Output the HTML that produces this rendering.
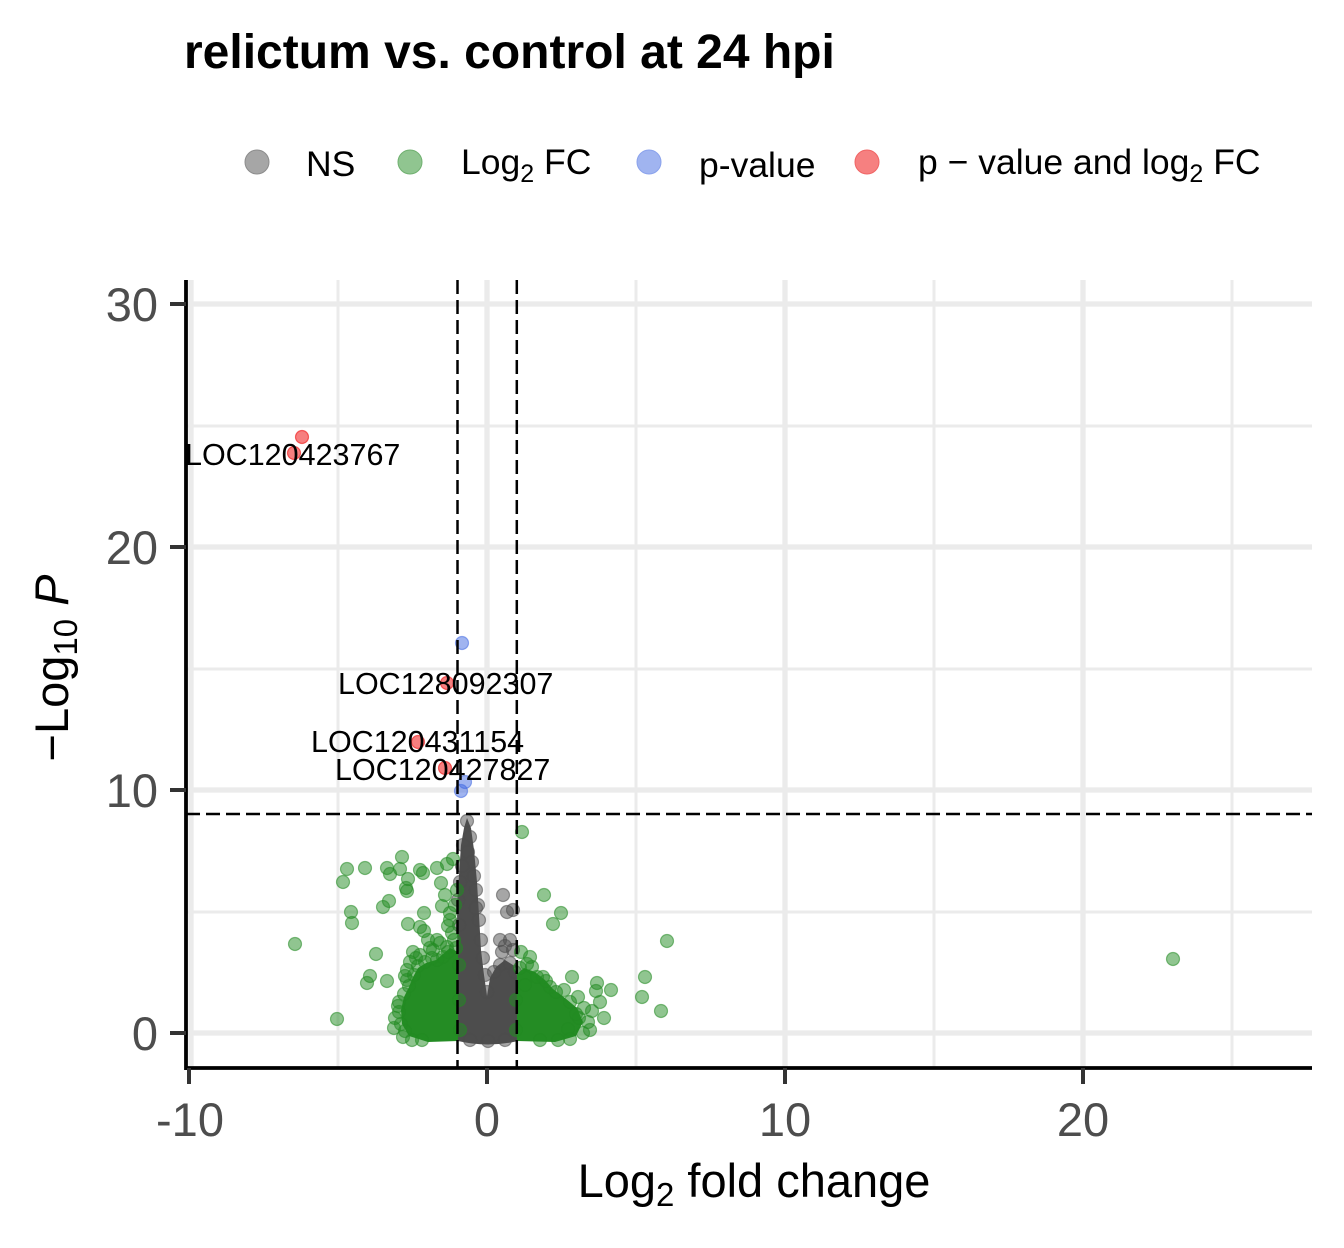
<!DOCTYPE html>
<html><head><meta charset="utf-8">
<style>
html,body{margin:0;padding:0;background:#fff;}
svg{display:block;font-family:"Liberation Sans",Arial,sans-serif;}
.g{fill:#228B22;fill-opacity:.5;stroke:#228B22;stroke-opacity:.55;stroke-width:1.2}
.k{fill:#4D4D4D;fill-opacity:.5;stroke:#4D4D4D;stroke-opacity:.55;stroke-width:1.2}
.b{fill:#4169E1;fill-opacity:.5;stroke:#4169E1;stroke-opacity:.55;stroke-width:1.2}
.r{fill:#EE0000;fill-opacity:.5;stroke:#EE0000;stroke-opacity:.55;stroke-width:1.2}
</style></head><body>
<svg width="1344" height="1248" viewBox="0 0 1344 1248" xmlns="http://www.w3.org/2000/svg">
<rect width="1344" height="1248" fill="#fff"/>

<!-- title -->
<text x="184" y="68" font-size="48" font-weight="bold" fill="#000">relictum vs. control at 24 hpi</text>

<!-- legend -->
<circle cx="257" cy="162" r="12" fill="#a6a6a6" stroke="#8c8c8c" stroke-width="1"/>
<text x="306" y="176" font-size="35.5" fill="#000">NS</text>
<circle cx="410" cy="162" r="12" fill="#90c590" stroke="#6fb06f" stroke-width="1"/>
<text x="461" y="174" font-size="35.5" fill="#000">Log<tspan font-size="25" dy="8">2</tspan><tspan dy="-8"> FC</tspan></text>
<circle cx="649" cy="162" r="12" fill="#a0b4f0" stroke="#8aa2ec" stroke-width="1"/>
<text x="699" y="177" font-size="35.5" fill="#000">p-value</text>
<circle cx="867" cy="162" r="12" fill="#f68080" stroke="#f06464" stroke-width="1"/>
<text x="918" y="174" font-size="35.5" fill="#000">p<tspan> − </tspan>value and log<tspan font-size="25" dy="8">2</tspan><tspan dy="-8"> FC</tspan></text>

<!-- grid -->
<g stroke="#EBEBEB" stroke-width="3">
<line x1="186" x2="1312" y1="912" y2="912"/>
<line x1="186" x2="1312" y1="669" y2="669"/>
<line x1="186" x2="1312" y1="426" y2="426"/>
<line y1="280" y2="1068" x1="338" x2="338"/>
<line y1="280" y2="1068" x1="636" x2="636"/>
<line y1="280" y2="1068" x1="934" x2="934"/>
<line y1="280" y2="1068" x1="1232" x2="1232"/>
</g>
<g stroke="#EBEBEB" stroke-width="5.3">
<line x1="186" x2="1312" y1="1033" y2="1033"/>
<line x1="186" x2="1312" y1="790" y2="790"/>
<line x1="186" x2="1312" y1="547" y2="547"/>
<line x1="186" x2="1312" y1="304" y2="304"/>
<line y1="280" y2="1068" x1="191" x2="191"/>
<line y1="280" y2="1068" x1="487" x2="487"/>
<line y1="280" y2="1068" x1="785" x2="785"/>
<line y1="280" y2="1068" x1="1083" x2="1083"/>
</g>

<!-- grey core -->
<path d="M458,1041 L457,905 L459,875 L461,845 L464,828 L467,818 L471,828 L474,850 L477,882 L479,915 L481,950 L484,975 L487,996 L490,978 L496,967 L505,960 L513,965 L517,975 L518,1041 Q488,1048 458,1041 Z" fill="#4D4D4D"/>
<g class="k">
<circle cx="467" cy="821" r="6.5"/><circle cx="470" cy="837" r="6.5"/><circle cx="463" cy="845" r="6.5"/>
<circle cx="468" cy="852" r="6.5"/><circle cx="472" cy="862" r="6.5"/><circle cx="462" cy="866" r="6.5"/>
<circle cx="474" cy="876" r="6.5"/><circle cx="460" cy="882" r="6.5"/><circle cx="476" cy="890" r="6.5"/>
<circle cx="478" cy="905" r="6.5"/><circle cx="479" cy="920" r="6.5"/><circle cx="481" cy="940" r="6.5"/>
<circle cx="483" cy="958" r="6.5"/><circle cx="485" cy="975" r="6.5"/><circle cx="487" cy="992" r="6.5"/>
<circle cx="503" cy="895" r="6.5"/><circle cx="507" cy="912" r="6.5"/><circle cx="513" cy="910" r="6.5"/>
<circle cx="500" cy="940" r="6.5"/><circle cx="505" cy="946" r="6.5"/><circle cx="510" cy="940" r="6.5"/>
<circle cx="513" cy="950" r="6.5"/><circle cx="502" cy="952" r="6.5"/><circle cx="500" cy="965" r="6.5"/>
<circle cx="494" cy="972" r="6.5"/><circle cx="510" cy="963" r="6.5"/><circle cx="515" cy="972" r="6.5"/>
<circle cx="470" cy="1040" r="6.5"/><circle cx="488" cy="1041" r="6.5"/><circle cx="505" cy="1040" r="6.5"/>
<circle cx="458" cy="900" r="6.5"/><circle cx="459" cy="925" r="6.5"/><circle cx="476" cy="908" r="6.5"/>
</g>

<!-- green cores -->
<path d="M458,1041 L458,952 L450,948 L443,954 L436,960 L426,963 L418,968 L413,977 L409,987 L404,997 L401,1010 L402,1024 L409,1036 L428,1042 Z" fill="#248C24"/>
<path d="M517,1041 L517,974 L524,968 L535,972 L545,980 L553,989 L565,998 L577,1008 L583,1022 L576,1036 L555,1042 Z" fill="#248C24"/>

<g class="g">
<!-- left outliers -->
<circle cx="295" cy="944" r="6.5"/><circle cx="337" cy="1019" r="6.5"/><circle cx="343" cy="882" r="6.5"/>
<circle cx="347" cy="869" r="6.5"/><circle cx="351" cy="912" r="6.5"/><circle cx="352" cy="923" r="6.5"/>
<circle cx="365" cy="868" r="6.5"/><circle cx="367" cy="983" r="6.5"/><circle cx="370" cy="976" r="6.5"/>
<circle cx="376" cy="954" r="6.5"/><circle cx="383" cy="907" r="6.5"/><circle cx="387" cy="868" r="6.5"/>
<circle cx="387" cy="981" r="6.5"/><circle cx="389" cy="901" r="6.5"/><circle cx="390" cy="874" r="6.5"/>
<circle cx="400" cy="869" r="6.5"/><circle cx="402" cy="857" r="6.5"/><circle cx="405" cy="976" r="6.5"/>
<circle cx="407" cy="980" r="6.5"/><circle cx="406" cy="888" r="6.5"/><circle cx="407" cy="891" r="6.5"/>
<circle cx="408" cy="879" r="6.5"/><circle cx="408" cy="924" r="6.5"/><circle cx="413" cy="952" r="6.5"/>
<circle cx="420" cy="870" r="6.5"/><circle cx="423" cy="873" r="6.5"/><circle cx="420" cy="927" r="6.5"/>
<circle cx="424" cy="913" r="6.5"/><circle cx="424" cy="931" r="6.5"/><circle cx="437" cy="868" r="6.5"/>
<circle cx="441" cy="883" r="6.5"/><circle cx="445" cy="895" r="6.5"/><circle cx="442" cy="906" r="6.5"/>
<circle cx="447" cy="864" r="6.5"/><circle cx="453" cy="859" r="6.5"/><circle cx="457" cy="890" r="6.5"/>
<circle cx="450" cy="913" r="6.5"/><circle cx="450" cy="920" r="6.5"/><circle cx="448" cy="926" r="6.5"/>
<circle cx="452" cy="933" r="6.5"/><circle cx="437" cy="940" r="6.5"/><circle cx="440" cy="943" r="6.5"/>
<circle cx="447" cy="947" r="6.5"/><circle cx="443" cy="957" r="6.5"/><circle cx="437" cy="960" r="6.5"/>
<circle cx="399" cy="1002" r="6.5"/><circle cx="399" cy="1012" r="6.5"/><circle cx="405" cy="1031" r="6.5"/>
<circle cx="454" cy="940" r="6.5"/><circle cx="455" cy="905" r="6.5"/><circle cx="430" cy="948" r="6.5"/>
<!-- left core edges -->
<circle cx="401" cy="1024" r="6.5"/><circle cx="403" cy="1037" r="6.5"/><circle cx="412" cy="1040" r="6.5"/>
<circle cx="404" cy="994" r="6.5"/><circle cx="409" cy="986" r="6.5"/><circle cx="414" cy="975" r="6.5"/>
<circle cx="418" cy="966" r="6.5"/><circle cx="425" cy="962" r="6.5"/><circle cx="432" cy="958" r="6.5"/>
<circle cx="448" cy="952" r="6.5"/><circle cx="456" cy="948" r="6.5"/><circle cx="395" cy="1018" r="6.5"/>
<circle cx="410" cy="962" r="6.5"/><circle cx="420" cy="955" r="6.5"/><circle cx="428" cy="940" r="6.5"/>
<circle cx="459" cy="965" r="6.5"/><circle cx="459" cy="1000" r="6.5"/><circle cx="460" cy="1030" r="6.5"/>
<circle cx="398" cy="1006" r="6.5"/><circle cx="407" cy="970" r="6.5"/><circle cx="416" cy="958" r="6.5"/>
<circle cx="433" cy="950" r="6.5"/><circle cx="422" cy="1040" r="6.5"/><circle cx="394" cy="1028" r="6.5"/>
<!-- right outliers -->
<circle cx="522" cy="832" r="6.5"/><circle cx="544" cy="895" r="6.5"/><circle cx="561" cy="913" r="6.5"/>
<circle cx="553" cy="924" r="6.5"/><circle cx="667" cy="941" r="6.5"/><circle cx="1173" cy="959" r="6.5"/>
<circle cx="521" cy="952" r="6.5"/><circle cx="530" cy="957" r="6.5"/><circle cx="532" cy="967" r="6.5"/>
<circle cx="572" cy="977" r="6.5"/><circle cx="645" cy="977" r="6.5"/><circle cx="597" cy="983" r="6.5"/>
<circle cx="596" cy="991" r="6.5"/><circle cx="611" cy="990" r="6.5"/><circle cx="642" cy="997" r="6.5"/>
<circle cx="661" cy="1011" r="6.5"/><circle cx="592" cy="1011" r="6.5"/><circle cx="578" cy="997" r="6.5"/>
<circle cx="579" cy="1018" r="6.5"/><circle cx="568" cy="1029" r="6.5"/><circle cx="564" cy="990" r="6.5"/>
<circle cx="550" cy="987" r="6.5"/><circle cx="543" cy="977" r="6.5"/><circle cx="537" cy="977" r="6.5"/>
<!-- right core edges -->
<circle cx="520" cy="968" r="6.5"/><circle cx="527" cy="964" r="6.5"/><circle cx="546" cy="981" r="6.5"/>
<circle cx="556" cy="992" r="6.5"/><circle cx="570" cy="1002" r="6.5"/><circle cx="584" cy="1008" r="6.5"/>
<circle cx="588" cy="1022" r="6.5"/><circle cx="583" cy="1033" r="6.5"/><circle cx="570" cy="1039" r="6.5"/>
<circle cx="600" cy="1002" r="6.5"/><circle cx="604" cy="1018" r="6.5"/><circle cx="576" cy="1014" r="6.5"/>
<circle cx="516" cy="1000" r="6.5"/><circle cx="516" cy="1030" r="6.5"/><circle cx="558" cy="1040" r="6.5"/>
<circle cx="525" cy="985" r="6.5"/><circle cx="540" cy="1040" r="6.5"/><circle cx="590" cy="1030" r="6.5"/>
</g>

<!-- significant points -->
<g class="b">
<circle cx="462" cy="643" r="6.5"/><circle cx="465" cy="782" r="6.5"/><circle cx="461" cy="791" r="6.5"/>
</g>
<g class="r">
<circle cx="302" cy="437" r="6.5"/><circle cx="294" cy="453" r="6.5"/><circle cx="447" cy="683" r="6.5"/>
<circle cx="418" cy="742" r="6.5"/><circle cx="445" cy="768" r="6.5"/>
</g>

<!-- cutoff lines -->
<g stroke="#000" stroke-width="2.5" stroke-dasharray="14 6" fill="none">
<line x1="457.5" x2="457.5" y1="280" y2="1068"/>
<line x1="516.8" x2="516.8" y1="280" y2="1068"/>
<line x1="186" x2="1312" y1="814" y2="814"/>
</g>

<!-- labels -->
<g font-size="30.5" fill="#000">
<text x="185" y="465">LOC120423767</text>
<text x="338" y="694">LOC128092307</text>
<text x="311" y="752">LOC120431154</text>
<text x="335" y="780">LOC120427827</text>
</g>

<!-- axes -->
<line x1="186" x2="186" y1="280" y2="1070" stroke="#000" stroke-width="3.8"/>
<line x1="184.5" x2="1312" y1="1068" y2="1068" stroke="#000" stroke-width="3.8"/>
<g stroke="#333" stroke-width="4">
<line x1="170" x2="186" y1="1033" y2="1033"/>
<line x1="170" x2="186" y1="790" y2="790"/>
<line x1="170" x2="186" y1="547" y2="547"/>
<line x1="170" x2="186" y1="304" y2="304"/>
<line x1="189" x2="189" y1="1068" y2="1084"/>
<line x1="487" x2="487" y1="1068" y2="1084"/>
<line x1="785" x2="785" y1="1068" y2="1084"/>
<line x1="1083" x2="1083" y1="1068" y2="1084"/>
</g>
<g font-size="47" fill="#4D4D4D" text-anchor="end">
<text x="158" y="1050">0</text>
<text x="158" y="807">10</text>
<text x="158" y="564">20</text>
<text x="158" y="321">30</text>
</g>
<g font-size="47" fill="#4D4D4D" text-anchor="middle">
<text x="190" y="1136">-10</text>
<text x="487" y="1136">0</text>
<text x="785" y="1136">10</text>
<text x="1083" y="1136">20</text>
</g>

<!-- axis titles -->
<text x="754" y="1197" font-size="47" fill="#000" text-anchor="middle">Log<tspan font-size="33" dy="9">2</tspan><tspan dy="-9"> fold change</tspan></text>
<text transform="translate(68,668) rotate(-90)" font-size="47" fill="#000" text-anchor="middle">−Log<tspan font-size="33" dy="9">10</tspan><tspan dy="-9" font-style="italic"> P</tspan></text>
</svg>
</body></html>
